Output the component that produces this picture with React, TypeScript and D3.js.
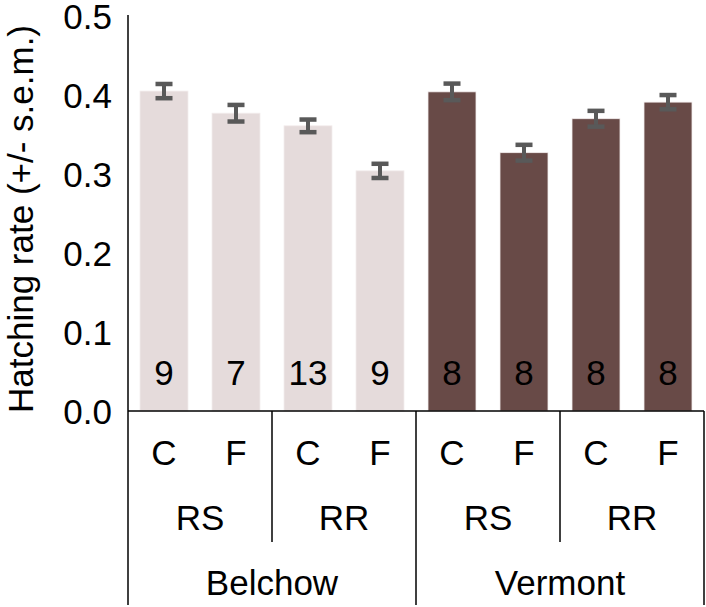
import * as d3 from 'd3';

const sites = ['Belchow', 'Vermont'];
const lines = ['RS', 'RR'];
const treatments = ['C', 'F'];

// one entry per bar, order: site > line > treatment
const rates = [0.405, 0.377, 0.361, 0.304, 0.404, 0.327, 0.37, 0.391];
const sems = [0.009, 0.0105, 0.008, 0.009, 0.0105, 0.01, 0.01, 0.009];
const counts = [9, 7, 13, 9, 8, 8, 8, 8];
const yTicks = [0, 0.1, 0.2, 0.3, 0.4, 0.5];

const siteColors = ['#e5dbdb', '#684a47'];
const font = '"Liberation Sans", Arial, sans-serif';
const fs = 35;

const W = 706;
const H = 607;
const left = 128;
const right = 704;
const yTop = 16;
const yBase = 411;

export default function App() {
  const keys: string[] = [];
  const siteOf: number[] = [];
  sites.forEach((s, si) =>
    lines.forEach((l) =>
      treatments.forEach((t) => {
        keys.push(`${s}-${l}-${t}`);
        siteOf.push(si);
      })
    )
  );

  const x = d3
    .scaleBand<string>()
    .domain(keys)
    .range([left, right])
    .paddingInner(1 / 3)
    .paddingOuter(1 / 6);

  const y = d3.scaleLinear().domain([0, 0.5]).range([yBase, yTop]);
  const fmt = d3.format('.1f');

  const gap = (x.step() - x.bandwidth()) / 2;
  const edge = (i: number) =>
    i < keys.length ? (x(keys[i]) as number) - gap : (x(keys[keys.length - 1]) as number) + x.bandwidth() + gap;
  const cx = (i: number) => (x(keys[i]) as number) + x.bandwidth() / 2;

  const perLine = treatments.length;
  const perSite = lines.length * perLine;

  return (
    <div style={{ position: 'absolute', left: 0, top: 0 }}>
      <svg width={W} height={H} style={{ display: 'block' }} fontFamily={font}>
        <rect width={W} height={H} fill="#fff" />

        {/* bars */}
        {keys.map((k, i) => (
          <rect
            key={k}
            x={x(k)}
            y={y(rates[i])}
            width={x.bandwidth()}
            height={yBase - y(rates[i])}
            fill={siteColors[siteOf[i]]}
            stroke="#f3eded"
            strokeWidth={0.8}
          />
        ))}

        {/* error bars */}
        {keys.map((k, i) => {
          const hi = y(rates[i] + sems[i]);
          const lo = y(rates[i] - sems[i]);
          const c = cx(i);
          return (
            <g key={`e-${k}`} fill="#595959">
              <rect x={c - 2} y={hi} width={4} height={lo - hi} />
              <rect x={c - 8.5} y={hi - 2.2} width={17} height={4.5} />
              <rect x={c - 8.5} y={lo - 2.2} width={17} height={4.5} />
            </g>
          );
        })}

        {/* counts */}
        {keys.map((k, i) => (
          <text key={`n-${k}`} x={cx(i)} y={385} fontSize={fs} textAnchor="middle" fill="#000">
            {counts[i]}
          </text>
        ))}

        {/* y axis */}
        <line x1={left} x2={left} y1={yTop - 1} y2={H - 2} stroke="#000" strokeWidth={1.5} />
        {yTicks.map((t) => (
          <text key={t} x={112} y={y(t) + 12.5} fontSize={fs} textAnchor="end" fill="#000">
            {fmt(t)}
          </text>
        ))}
        <text
          transform={`translate(33,219) rotate(-90)`}
          fontSize={fs}
          textAnchor="middle"
          fill="#000"
        >
          Hatching rate (+/- s.e.m.)
        </text>

        {/* category axis */}
        <line x1={left} x2={right} y1={yBase} y2={yBase} stroke="#000" strokeWidth={1.5} />
        {keys.map((k, i) => (
          <text key={`t-${k}`} x={cx(i)} y={465} fontSize={fs} textAnchor="middle" fill="#000">
            {treatments[i % perLine]}
          </text>
        ))}
        {sites.map((s, si) =>
          lines.map((l, li) => {
            const start = si * perSite + li * perLine;
            const mid = (edge(start) + edge(start + perLine)) / 2;
            return (
              <g key={`${s}-${l}`}>
                <text x={mid} y={530} fontSize={fs} textAnchor="middle" fill="#000">
                  {l}
                </text>
                {li > 0 && (
                  <line x1={edge(start)} x2={edge(start)} y1={yBase} y2={542} stroke="#000" strokeWidth={1.5} />
                )}
              </g>
            );
          })
        )}
        {sites.map((s, si) => {
          const a = edge(si * perSite);
          const b = edge((si + 1) * perSite);
          return (
            <g key={s}>
              <text x={(a + b) / 2} y={595} fontSize={fs} textAnchor="middle" fill="#000">
                {s}
              </text>
              <line x1={b} x2={b} y1={yBase} y2={H - 2} stroke="#000" strokeWidth={1.5} />
            </g>
          );
        })}
      </svg>
    </div>
  );
}
